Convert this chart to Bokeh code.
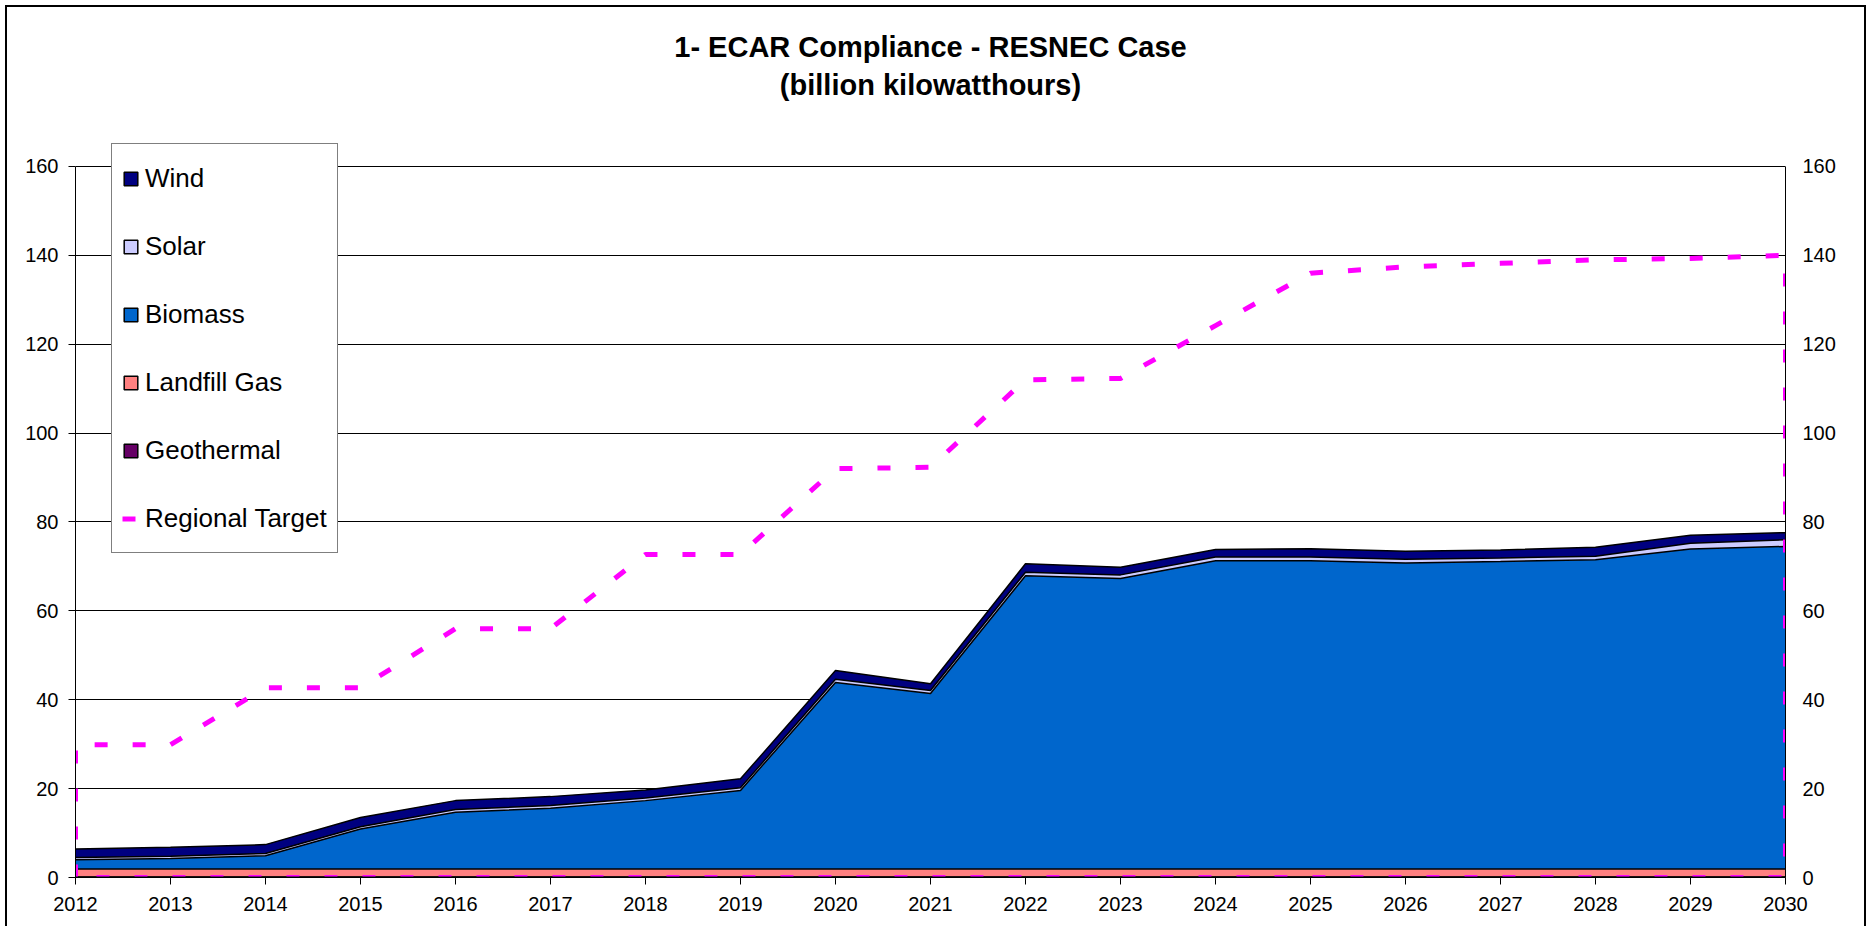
from bokeh.plotting import figure
from bokeh.models import (Range1d, LinearAxis, FixedTicker, Legend, LegendItem,
                          ColumnDataSource, Span, Title)
from bokeh.embed import file_html
from bokeh.resources import INLINE

years = [2012, 2013, 2014, 2015, 2016, 2017, 2018, 2019, 2020, 2021,
         2022, 2023, 2024, 2025, 2026, 2027, 2028, 2029, 2030]
geothermal = [0.1, 0.1, 0.1, 0.1, 0.1, 0.1, 0.1, 0.1, 0.1, 0.1,
              0.1, 0.1, 0.1, 0.1, 0.1, 0.1, 0.1, 0.1, 0.1]
landfill_gas = [1.8, 1.8, 1.8, 1.8, 1.8, 1.8, 1.8, 1.8, 1.8, 1.8,
                1.8, 1.8, 1.8, 1.8, 1.8, 1.8, 1.8, 1.8, 1.8]
biomass = [2.1, 2.4, 3.0, 9.0, 12.8, 13.7, 15.4, 17.7, 42.0, 39.5,
           66.0, 65.4, 69.4, 69.4, 68.9, 69.2, 69.6, 72.0, 72.6]
solar = [0.5, 0.5, 0.5, 0.5, 0.6, 0.6, 0.6, 0.6, 0.7, 0.7,
         0.8, 0.8, 0.8, 0.8, 0.8, 0.8, 0.8, 1.3, 1.5]
wind = [1.9, 2.0, 2.0, 2.1, 2.0, 2.0, 1.8, 2.0, 2.0, 1.5,
        1.9, 1.7, 1.7, 1.9, 1.8, 1.8, 2.0, 1.8, 1.6]
regional_target = [29.9, 29.9, 42.7, 42.7, 56.0, 56.0, 72.7, 72.7, 92.0, 92.3,
                   112.0, 112.3, 124.2, 136.0, 137.4, 138.2, 139.0, 139.3, 140.0]
y_ticks = [0, 20, 40, 60, 80, 100, 120, 140, 160]
title_lines = ["1- ECAR Compliance - RESNEC Case", "(billion kilowatthours)"]

series_names = ["Geothermal", "Landfill Gas", "Biomass", "Solar", "Wind"]
series_colors = ["#660066", "#FF8080", "#0066CC", "#CCCCFF", "#000080"]
stack_keys = ["geo", "lfg", "bio", "sol", "wind"]

FONT = "Liberation Sans"

src = ColumnDataSource(dict(year=years, geo=geothermal, lfg=landfill_gas,
                            bio=biomass, sol=solar, wind=wind))

# frame reaches a little above 160 so the legend box is not clipped
p = figure(width=1861, height=921,
           x_range=Range1d(years[0], years[-1]), y_range=Range1d(0, 165.85),
           output_backend="svg", toolbar_location=None,
           min_border_left=68, min_border_right=83,
           min_border_top=133, min_border_bottom=51)
p.background_fill_color = "white"
p.border_fill_color = "white"
p.outline_line_color = None
p.styles = {"border-top": "2px solid black", "border-left": "2px solid black",
            "border-right": "2px solid black", "margin-left": "5px", "margin-top": "5px"}

# title (two centred lines) ; an empty spacer keeps them well above the plot
spacer = Title(text=" ", align="center", text_font=FONT, text_font_size="10px",
               standoff=25)
p.add_layout(spacer, "above")
sub = Title(text=title_lines[1], align="center", text_font=FONT, text_font_size="29px",
            text_font_style="bold", text_color="black", standoff=4)
p.add_layout(sub, "above")
p.title.text = title_lines[0]
p.title.align = "center"
p.title.text_font = FONT
p.title.text_font_size = "29px"
p.title.text_font_style = "bold"
p.title.text_color = "black"
p.title.standoff = 4

# legend swatches (drawn first, hidden beneath the areas)
swatches = {}
for name, col in zip(series_names, series_colors):
    swatches[name] = p.quad(left=[years[0]], right=[years[0]], bottom=[0], top=[0],
                            fill_color=col, line_color="black", line_width=1.5)

# stacked areas
p.varea_stack(stack_keys, x="year", source=src, fill_color=series_colors)
p.vline_stack(stack_keys, x="year", source=src, line_color="black", line_width=1.5)
p.add_layout(Span(location=0, dimension="width", line_color="black", line_width=2))

# regional target (outlined as an area with no fill)
tx = [years[0]] + years + [years[-1], years[0]]
ty = [0] + regional_target + [0, 0]
target = p.line(tx, ty, line_color="#FF00FF", line_width=5, line_dash="13 25")

# axes
for ax in [p.xaxis[0], p.yaxis[0]]:
    ax.major_tick_out = 7
    ax.major_tick_in = 0
    ax.minor_tick_out = 0
    ax.minor_tick_in = 0
    ax.axis_line_color = "black"
    ax.major_tick_line_color = "black"
    ax.major_label_text_font = FONT
    ax.major_label_text_font_size = "20px"
    ax.major_label_text_color = "black"
p.xaxis.ticker = FixedTicker(ticks=years)
p.xaxis.major_label_standoff = 12
p.yaxis.ticker = FixedTicker(ticks=y_ticks)
p.yaxis.major_label_standoff = 10
p.yaxis.bounds = (y_ticks[0], y_ticks[-1])

right = LinearAxis(ticker=FixedTicker(ticks=y_ticks), major_tick_out=0, major_tick_in=0,
                   minor_tick_out=0, minor_tick_in=0, axis_line_color="black",
                   bounds=(y_ticks[0], y_ticks[-1]),
                   major_label_standoff=17, major_label_text_font=FONT,
                   major_label_text_font_size="20px", major_label_text_color="black")
p.add_layout(right, "right")

p.xgrid.visible = False
p.ygrid.ticker = FixedTicker(ticks=y_ticks)
p.ygrid.grid_line_color = "black"
p.ygrid.grid_line_width = 1

# legend
order = ["Wind", "Solar", "Biomass", "Landfill Gas", "Geothermal"]
items = [LegendItem(label=n, renderers=[swatches[n]]) for n in order]
items.append(LegendItem(label="Regional Target", renderers=[target]))
legend = Legend(items=items, location=(36, 324), orientation="vertical",
                glyph_width=17, glyph_height=17, label_height=48, spacing=20,
                padding=10, margin=0, label_standoff=6,
                label_text_font=FONT, label_text_font_size="26px",
                label_text_color="black",
                border_line_color="black", border_line_width=1,
                background_fill_color="white", background_fill_alpha=1.0)
p.add_layout(legend)

open("out.html", "w").write(file_html(p, INLINE))
